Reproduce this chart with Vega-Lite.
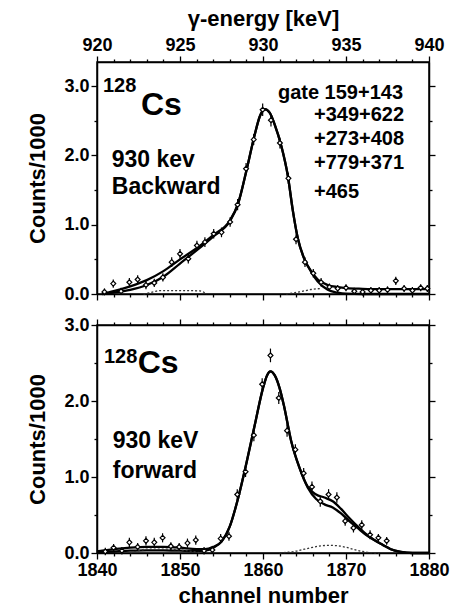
{
  "$schema": "https://vega.github.io/schema/vega-lite/v6.json",
  "padding": {"left": 26, "top": 6, "right": 4, "bottom": 2},
  "background": "white",
  "spacing": 31,
  "bounds": "flush",
  "config": {
    "font": "Liberation Sans",
    "view": {"stroke": "black", "strokeWidth": 1.5},
    "axis": {
      "domainColor": "black", "domainWidth": 1.5, "tickColor": "black", "tickWidth": 1.3,
      "labelColor": "black", "labelFont": "Liberation Sans", "labelFontSize": 18, "labelFontWeight": "bold",
      "titleFont": "Liberation Sans", "titleFontSize": 22, "titleFontWeight": "bold", "titleColor": "black",
      "grid": false, "labelOverlap": false, "labelFlush": false, "labelPadding": 2
    }
  },
  "datasets": {
    "topPts": [
      {"E": 920.45, "v": 0.03, "e": 0.05}, {"E": 920.98, "v": 0.15, "e": 0.06}, {"E": 921.45, "v": 0.04, "e": 0.05},
      {"E": 921.95, "v": 0.17, "e": 0.06}, {"E": 922.45, "v": 0.21, "e": 0.06}, {"E": 922.95, "v": 0.13, "e": 0.06},
      {"E": 923.45, "v": 0.16, "e": 0.06}, {"E": 923.97, "v": 0.24, "e": 0.06}, {"E": 924.5, "v": 0.46, "e": 0.07},
      {"E": 925.0, "v": 0.58, "e": 0.07}, {"E": 925.5, "v": 0.51, "e": 0.07}, {"E": 926.02, "v": 0.70, "e": 0.07},
      {"E": 926.5, "v": 0.75, "e": 0.07}, {"E": 927.03, "v": 0.87, "e": 0.07}, {"E": 927.5, "v": 0.89, "e": 0.07},
      {"E": 928.02, "v": 1.04, "e": 0.07}, {"E": 928.47, "v": 1.29, "e": 0.08}, {"E": 928.98, "v": 1.81, "e": 0.08},
      {"E": 929.44, "v": 2.23, "e": 0.08}, {"E": 929.98, "v": 2.66, "e": 0.09}, {"E": 930.48, "v": 2.51, "e": 0.09},
      {"E": 931.02, "v": 2.18, "e": 0.08}, {"E": 931.53, "v": 1.67, "e": 0.08}, {"E": 931.99, "v": 0.79, "e": 0.07},
      {"E": 932.53, "v": 0.46, "e": 0.07}, {"E": 933.03, "v": 0.30, "e": 0.06}, {"E": 933.5, "v": 0.17, "e": 0.06},
      {"E": 934.0, "v": 0.10, "e": 0.05}, {"E": 934.5, "v": 0.08, "e": 0.05}, {"E": 935.0, "v": 0.09, "e": 0.05},
      {"E": 935.5, "v": 0.04, "e": 0.05}, {"E": 936.0, "v": 0.03, "e": 0.05}, {"E": 936.5, "v": 0.05, "e": 0.05},
      {"E": 937.0, "v": 0.05, "e": 0.05}, {"E": 937.5, "v": 0.06, "e": 0.05}, {"E": 938.0, "v": 0.19, "e": 0.06},
      {"E": 938.5, "v": 0.08, "e": 0.05}, {"E": 939.0, "v": 0.05, "e": 0.05}, {"E": 939.5, "v": 0.09, "e": 0.05},
      {"E": 939.9, "v": 0.08, "e": 0.05}
    ],
    "topFit": [
      {"s": "a", "E": 920.3, "v": 0.0}, {"s": "a", "E": 921, "v": 0.02}, {"s": "a", "E": 922, "v": 0.06},
      {"s": "a", "E": 923, "v": 0.13}, {"s": "a", "E": 924, "v": 0.25}, {"s": "a", "E": 925, "v": 0.44},
      {"s": "a", "E": 926, "v": 0.63}, {"s": "a", "E": 927, "v": 0.83}, {"s": "a", "E": 928, "v": 1.05},
      {"s": "a", "E": 928.5, "v": 1.3}, {"s": "a", "E": 929, "v": 1.78}, {"s": "a", "E": 929.5, "v": 2.3},
      {"s": "a", "E": 929.8, "v": 2.56}, {"s": "a", "E": 930.1, "v": 2.67}, {"s": "a", "E": 930.4, "v": 2.62},
      {"s": "a", "E": 930.7, "v": 2.45}, {"s": "a", "E": 931.1, "v": 2.14}, {"s": "a", "E": 931.5, "v": 1.7},
      {"s": "a", "E": 931.8, "v": 1.2}, {"s": "a", "E": 932.1, "v": 0.8}, {"s": "a", "E": 932.5, "v": 0.5},
      {"s": "a", "E": 932.9, "v": 0.32}, {"s": "a", "E": 933.3, "v": 0.18}, {"s": "a", "E": 933.9, "v": 0.06},
      {"s": "a", "E": 934.5, "v": 0.02}, {"s": "a", "E": 935, "v": 0.005}, {"s": "a", "E": 936, "v": 0.0},
      {"s": "a", "E": 940, "v": 0.0},
      {"s": "b", "E": 920.3, "v": 0.0}, {"s": "b", "E": 921, "v": 0.04}, {"s": "b", "E": 922, "v": 0.11},
      {"s": "b", "E": 923, "v": 0.2}, {"s": "b", "E": 924, "v": 0.33}, {"s": "b", "E": 925, "v": 0.5},
      {"s": "b", "E": 926, "v": 0.66}, {"s": "b", "E": 927, "v": 0.85}, {"s": "b", "E": 928, "v": 1.06},
      {"s": "b", "E": 928.5, "v": 1.31}, {"s": "b", "E": 929, "v": 1.78}, {"s": "b", "E": 929.5, "v": 2.3},
      {"s": "b", "E": 929.8, "v": 2.56}, {"s": "b", "E": 930.1, "v": 2.67}, {"s": "b", "E": 930.4, "v": 2.62},
      {"s": "b", "E": 930.7, "v": 2.45}, {"s": "b", "E": 931.1, "v": 2.14}, {"s": "b", "E": 931.5, "v": 1.7},
      {"s": "b", "E": 931.8, "v": 1.2}, {"s": "b", "E": 932.1, "v": 0.8}, {"s": "b", "E": 932.5, "v": 0.5},
      {"s": "b", "E": 932.9, "v": 0.33}, {"s": "b", "E": 933.3, "v": 0.21}, {"s": "b", "E": 933.9, "v": 0.13},
      {"s": "b", "E": 934.5, "v": 0.1}, {"s": "b", "E": 935, "v": 0.085}, {"s": "b", "E": 936, "v": 0.075},
      {"s": "b", "E": 937, "v": 0.07}, {"s": "b", "E": 938, "v": 0.07}, {"s": "b", "E": 939, "v": 0.07},
      {"s": "b", "E": 940, "v": 0.07}
    ],
    "topDot": [
      {"s": "l", "E": 922.8, "v": 0.0}, {"s": "l", "E": 923.4, "v": 0.03}, {"s": "l", "E": 923.8, "v": 0.05},
      {"s": "l", "E": 925.0, "v": 0.05}, {"s": "l", "E": 926.2, "v": 0.045}, {"s": "l", "E": 926.6, "v": 0.0},
      {"s": "r", "E": 931.4, "v": 0.0}, {"s": "r", "E": 932.2, "v": 0.03}, {"s": "r", "E": 932.9, "v": 0.065},
      {"s": "r", "E": 933.5, "v": 0.08}
    ],
    "topTxt": [
      {"t": "128", "x": 920.36, "y": 2.92, "r": "sup"},
      {"t": "Cs", "x": 922.65, "y": 2.58, "r": "big"},
      {"t": "930 kev", "x": 920.89, "y": 1.83, "r": "lab"},
      {"t": "Backward", "x": 920.89, "y": 1.44, "r": "lab"},
      {"t": "gate 159+143", "x": 930.9, "y": 2.82, "r": "gate"},
      {"t": "+349+622", "x": 933.07, "y": 2.5, "r": "gate"},
      {"t": "+273+408", "x": 933.07, "y": 2.15, "r": "gate"},
      {"t": "+779+371", "x": 933.07, "y": 1.8, "r": "gate"},
      {"t": "+465", "x": 933.07, "y": 1.39, "r": "gate"}
    ],
    "botPts": [
      {"c": 1841.0, "v": 0.02, "e": 0.05}, {"c": 1842.0, "v": 0.07, "e": 0.05}, {"c": 1843.0, "v": 0.03, "e": 0.05},
      {"c": 1843.9, "v": 0.14, "e": 0.06}, {"c": 1844.9, "v": 0.08, "e": 0.05}, {"c": 1845.9, "v": 0.16, "e": 0.06},
      {"c": 1846.9, "v": 0.14, "e": 0.06}, {"c": 1847.9, "v": 0.2, "e": 0.06}, {"c": 1848.9, "v": 0.09, "e": 0.05},
      {"c": 1849.9, "v": 0.08, "e": 0.05}, {"c": 1850.9, "v": 0.13, "e": 0.06}, {"c": 1851.9, "v": 0.17, "e": 0.06},
      {"c": 1852.9, "v": 0.03, "e": 0.05}, {"c": 1853.9, "v": 0.04, "e": 0.05}, {"c": 1854.9, "v": 0.19, "e": 0.06},
      {"c": 1855.9, "v": 0.22, "e": 0.06}, {"c": 1856.9, "v": 0.77, "e": 0.07}, {"c": 1857.9, "v": 1.07, "e": 0.07},
      {"c": 1858.9, "v": 1.55, "e": 0.08}, {"c": 1859.9, "v": 2.22, "e": 0.08}, {"c": 1860.9, "v": 2.6, "e": 0.09},
      {"c": 1861.9, "v": 2.04, "e": 0.08}, {"c": 1862.9, "v": 1.61, "e": 0.08}, {"c": 1863.9, "v": 1.36, "e": 0.07},
      {"c": 1864.9, "v": 1.05, "e": 0.07}, {"c": 1865.9, "v": 0.87, "e": 0.07}, {"c": 1866.9, "v": 0.68, "e": 0.07},
      {"c": 1867.9, "v": 0.77, "e": 0.07}, {"c": 1868.9, "v": 0.73, "e": 0.07}, {"c": 1869.9, "v": 0.42, "e": 0.06},
      {"c": 1870.9, "v": 0.33, "e": 0.06}, {"c": 1871.9, "v": 0.37, "e": 0.06}, {"c": 1872.9, "v": 0.24, "e": 0.06},
      {"c": 1873.9, "v": 0.2, "e": 0.05}, {"c": 1874.9, "v": 0.16, "e": 0.05}
    ],
    "botFit": [
      {"s": "a", "c": 1840, "v": 0.01}, {"s": "a", "c": 1842, "v": 0.02}, {"s": "a", "c": 1844, "v": 0.03},
      {"s": "a", "c": 1846, "v": 0.035}, {"s": "a", "c": 1848, "v": 0.035}, {"s": "a", "c": 1850, "v": 0.03},
      {"s": "a", "c": 1852, "v": 0.025}, {"s": "a", "c": 1853, "v": 0.03}, {"s": "a", "c": 1854, "v": 0.07},
      {"s": "a", "c": 1855, "v": 0.15}, {"s": "a", "c": 1856, "v": 0.35}, {"s": "a", "c": 1857, "v": 0.72},
      {"s": "a", "c": 1858, "v": 1.18}, {"s": "a", "c": 1859, "v": 1.68}, {"s": "a", "c": 1860, "v": 2.17},
      {"s": "a", "c": 1860.5, "v": 2.34}, {"s": "a", "c": 1860.9, "v": 2.39}, {"s": "a", "c": 1861.4, "v": 2.34},
      {"s": "a", "c": 1862, "v": 2.17}, {"s": "a", "c": 1862.5, "v": 1.95}, {"s": "a", "c": 1863.4, "v": 1.47},
      {"s": "a", "c": 1864.4, "v": 1.12}, {"s": "a", "c": 1865.4, "v": 0.86}, {"s": "a", "c": 1866.4, "v": 0.71},
      {"s": "a", "c": 1867.4, "v": 0.64}, {"s": "a", "c": 1868.4, "v": 0.6}, {"s": "a", "c": 1869.4, "v": 0.52},
      {"s": "a", "c": 1870.4, "v": 0.42}, {"s": "a", "c": 1871.4, "v": 0.33}, {"s": "a", "c": 1872.4, "v": 0.24},
      {"s": "a", "c": 1873.4, "v": 0.17}, {"s": "a", "c": 1874.4, "v": 0.11}, {"s": "a", "c": 1875.4, "v": 0.05},
      {"s": "a", "c": 1876.6, "v": 0.015}, {"s": "a", "c": 1878, "v": 0.0}, {"s": "a", "c": 1880, "v": 0.0},
      {"s": "b", "c": 1840, "v": 0.02}, {"s": "b", "c": 1842, "v": 0.05}, {"s": "b", "c": 1844, "v": 0.07},
      {"s": "b", "c": 1846, "v": 0.08}, {"s": "b", "c": 1848, "v": 0.08}, {"s": "b", "c": 1850, "v": 0.07},
      {"s": "b", "c": 1852, "v": 0.05}, {"s": "b", "c": 1853, "v": 0.05}, {"s": "b", "c": 1854, "v": 0.08},
      {"s": "b", "c": 1855, "v": 0.15}, {"s": "b", "c": 1856, "v": 0.35}, {"s": "b", "c": 1857, "v": 0.72},
      {"s": "b", "c": 1858, "v": 1.18}, {"s": "b", "c": 1859, "v": 1.68}, {"s": "b", "c": 1860, "v": 2.17},
      {"s": "b", "c": 1860.5, "v": 2.34}, {"s": "b", "c": 1860.9, "v": 2.39}, {"s": "b", "c": 1861.4, "v": 2.34},
      {"s": "b", "c": 1862, "v": 2.17}, {"s": "b", "c": 1862.5, "v": 1.95}, {"s": "b", "c": 1863.4, "v": 1.47},
      {"s": "b", "c": 1864.4, "v": 1.12}, {"s": "b", "c": 1865.4, "v": 0.87}, {"s": "b", "c": 1866.4, "v": 0.77},
      {"s": "b", "c": 1867.4, "v": 0.73}, {"s": "b", "c": 1868.4, "v": 0.68}, {"s": "b", "c": 1869.4, "v": 0.58},
      {"s": "b", "c": 1870.4, "v": 0.46}, {"s": "b", "c": 1871.4, "v": 0.35}, {"s": "b", "c": 1872.4, "v": 0.25},
      {"s": "b", "c": 1873.4, "v": 0.17}, {"s": "b", "c": 1874.4, "v": 0.11}, {"s": "b", "c": 1875.4, "v": 0.05},
      {"s": "b", "c": 1876.6, "v": 0.015}, {"s": "b", "c": 1878, "v": 0.0}, {"s": "b", "c": 1880, "v": 0.0}
    ],
    "botDot": [
      {"s": "l", "c": 1844, "v": 0.0}, {"s": "l", "c": 1845, "v": 0.03}, {"s": "l", "c": 1846, "v": 0.05},
      {"s": "l", "c": 1848, "v": 0.05}, {"s": "l", "c": 1850, "v": 0.04}, {"s": "l", "c": 1851.5, "v": 0.02},
      {"s": "l", "c": 1852.5, "v": 0.0},
      {"s": "r", "c": 1862, "v": 0.0}, {"s": "r", "c": 1863, "v": 0.01}, {"s": "r", "c": 1864, "v": 0.025},
      {"s": "r", "c": 1865, "v": 0.05}, {"s": "r", "c": 1866, "v": 0.075}, {"s": "r", "c": 1867, "v": 0.095},
      {"s": "r", "c": 1868, "v": 0.1}, {"s": "r", "c": 1869, "v": 0.095}, {"s": "r", "c": 1870, "v": 0.075},
      {"s": "r", "c": 1871, "v": 0.045}, {"s": "r", "c": 1872, "v": 0.02}, {"s": "r", "c": 1873, "v": 0.005},
      {"s": "r", "c": 1874, "v": 0.0}
    ],
    "botTxt": [
      {"t": "128", "x": 1840.84, "y": 2.5, "r": "sup"},
      {"t": "Cs", "x": 1844.9, "y": 2.37, "r": "big"},
      {"t": "930 keV", "x": 1841.9, "y": 1.38, "r": "lab"},
      {"t": "forward", "x": 1841.9, "y": 0.99, "r": "lab"}
    ]
  },
  "vconcat": [
    {
      "width": 332, "height": 232,
      "resolve": {"axis": {"x": "independent", "y": "independent"}},
      "layer": [
        {
          "data": {"name": "topFit"},
          "mark": {"type": "line", "color": "black", "strokeWidth": 2.3, "interpolate": "monotone"},
          "encoding": {
            "x": {"field": "E", "type": "quantitative", "scale": {"domain": [920, 940], "nice": false, "zero": false},
              "axis": {"orient": "top", "title": "γ-energy [keV]", "titlePadding": 6, "format": "d",
                "values": [920,921,922,923,924,925,926,927,928,929,930,931,932,933,934,935,936,937,938,939,940],
                "labelExpr": "datum.value % 5 === 0 ? datum.label : ''",
                "tickSize": {"condition": {"test": "datum.value % 5 === 0", "value": 6}, "value": 3}}},
            "y": {"field": "v", "type": "quantitative", "scale": {"domain": [0, 3.35], "nice": false, "zero": false},
              "axis": {"orient": "left", "title": "Counts/1000", "titlePadding": 14,
                "values": [0, 0.5, 1, 1.5, 2, 2.5, 3],
                "labelExpr": "datum.value % 1 === 0 ? format(datum.value, '.1f') : ''",
                "tickSize": {"condition": {"test": "datum.value % 1 === 0", "value": 6}, "value": 3}}},
            "detail": {"field": "s"}
          }
        },
        {
          "data": {"name": "topDot"},
          "mark": {"type": "line", "color": "#333", "strokeWidth": 1.3, "strokeDash": [2, 2], "interpolate": "monotone"},
          "encoding": {
            "x": {"field": "E", "type": "quantitative", "scale": {"domain": [920, 940], "nice": false, "zero": false},
              "axis": {"orient": "bottom", "title": null, "labels": false,
                "values": [920,921,922,923,924,925,926,927,928,929,930,931,932,933,934,935,936,937,938,939,940],
                "tickSize": {"condition": {"test": "datum.value % 5 === 0", "value": 6}, "value": 3}}},
            "y": {"field": "v", "type": "quantitative", "scale": {"domain": [0, 3.35], "nice": false, "zero": false},
              "axis": {"orient": "right", "title": null, "labels": false,
                "values": [0, 0.5, 1, 1.5, 2, 2.5, 3],
                "tickSize": {"condition": {"test": "datum.value % 1 === 0", "value": 6}, "value": 3}}},
            "detail": {"field": "s"}
          }
        },
        {
          "data": {"name": "topPts"},
          "mark": {"type": "errorbar", "color": "black", "thickness": 1.2},
          "encoding": {
            "x": {"field": "E", "type": "quantitative", "axis": null},
            "y": {"field": "v", "type": "quantitative", "axis": null},
            "yError": {"field": "e"}
          }
        },
        {
          "data": {"name": "topPts"},
          "mark": {"type": "point", "shape": "diamond", "filled": true, "fill": "white", "stroke": "black", "strokeWidth": 1.2, "size": 24, "opacity": 1},
          "encoding": {
            "x": {"field": "E", "type": "quantitative", "axis": null},
            "y": {"field": "v", "type": "quantitative", "axis": null}
          }
        },
        {
          "data": {"name": "topTxt"},
          "transform": [{"filter": "datum.r === 'sup'"}],
          "mark": {"type": "text", "align": "left", "baseline": "alphabetic", "fontSize": 20, "fontWeight": "bold", "color": "black"},
          "encoding": {
            "x": {"field": "x", "type": "quantitative", "axis": null},
            "y": {"field": "y", "type": "quantitative", "axis": null},
            "text": {"field": "t"}
          }
        },
        {
          "data": {"name": "topTxt"},
          "transform": [{"filter": "datum.r === 'big'"}],
          "mark": {"type": "text", "align": "left", "baseline": "alphabetic", "fontSize": 32, "fontWeight": "bold", "color": "black"},
          "encoding": {
            "x": {"field": "x", "type": "quantitative", "axis": null},
            "y": {"field": "y", "type": "quantitative", "axis": null},
            "text": {"field": "t"}
          }
        },
        {
          "data": {"name": "topTxt"},
          "transform": [{"filter": "datum.r === 'lab'"}],
          "mark": {"type": "text", "align": "left", "baseline": "alphabetic", "fontSize": 23, "fontWeight": "bold", "color": "black"},
          "encoding": {
            "x": {"field": "x", "type": "quantitative", "axis": null},
            "y": {"field": "y", "type": "quantitative", "axis": null},
            "text": {"field": "t"}
          }
        },
        {
          "data": {"name": "topTxt"},
          "transform": [{"filter": "datum.r === 'gate'"}],
          "mark": {"type": "text", "align": "left", "baseline": "alphabetic", "fontSize": 20, "fontWeight": "bold", "color": "black"},
          "encoding": {
            "x": {"field": "x", "type": "quantitative", "axis": null},
            "y": {"field": "y", "type": "quantitative", "axis": null},
            "text": {"field": "t"}
          }
        }
      ]
    },
    {
      "width": 332, "height": 228,
      "resolve": {"axis": {"x": "independent", "y": "independent"}},
      "layer": [
        {
          "data": {"name": "botFit"},
          "mark": {"type": "line", "color": "black", "strokeWidth": 2.3, "interpolate": "monotone"},
          "encoding": {
            "x": {"field": "c", "type": "quantitative", "scale": {"domain": [1840, 1880], "nice": false, "zero": false},
              "axis": {"orient": "bottom", "title": "channel number", "titlePadding": 6, "format": "d",
                "values": [1840,1842,1844,1846,1848,1850,1852,1854,1856,1858,1860,1862,1864,1866,1868,1870,1872,1874,1876,1878,1880],
                "labelExpr": "datum.value % 10 === 0 ? datum.label : ''",
                "tickSize": {"condition": {"test": "datum.value % 10 === 0", "value": 6}, "value": 3}}},
            "y": {"field": "v", "type": "quantitative", "scale": {"domain": [0, 3.0], "nice": false, "zero": false},
              "axis": {"orient": "left", "title": "Counts/1000", "titlePadding": 14,
                "values": [0, 0.5, 1, 1.5, 2, 2.5, 3],
                "labelExpr": "datum.value % 1 === 0 ? format(datum.value, '.1f') : ''",
                "tickSize": {"condition": {"test": "datum.value % 1 === 0", "value": 6}, "value": 3}}},
            "detail": {"field": "s"}
          }
        },
        {
          "data": {"name": "botDot"},
          "mark": {"type": "line", "color": "#333", "strokeWidth": 1.3, "strokeDash": [2, 2], "interpolate": "monotone"},
          "encoding": {
            "x": {"field": "c", "type": "quantitative", "scale": {"domain": [1840, 1880], "nice": false, "zero": false},
              "axis": {"orient": "top", "title": null, "labels": false,
                "values": [1840,1842,1844,1846,1848,1850,1852,1854,1856,1858,1860,1862,1864,1866,1868,1870,1872,1874,1876,1878,1880],
                "tickSize": {"condition": {"test": "datum.value % 10 === 0", "value": 6}, "value": 3}}},
            "y": {"field": "v", "type": "quantitative", "scale": {"domain": [0, 3.0], "nice": false, "zero": false},
              "axis": {"orient": "right", "title": null, "labels": false,
                "values": [0, 0.5, 1, 1.5, 2, 2.5, 3],
                "tickSize": {"condition": {"test": "datum.value % 1 === 0", "value": 6}, "value": 3}}},
            "detail": {"field": "s"}
          }
        },
        {
          "data": {"name": "botPts"},
          "mark": {"type": "errorbar", "color": "black", "thickness": 1.2},
          "encoding": {
            "x": {"field": "c", "type": "quantitative", "axis": null},
            "y": {"field": "v", "type": "quantitative", "axis": null},
            "yError": {"field": "e"}
          }
        },
        {
          "data": {"name": "botPts"},
          "mark": {"type": "point", "shape": "diamond", "filled": true, "fill": "white", "stroke": "black", "strokeWidth": 1.2, "size": 24, "opacity": 1},
          "encoding": {
            "x": {"field": "c", "type": "quantitative", "axis": null},
            "y": {"field": "v", "type": "quantitative", "axis": null}
          }
        },
        {
          "data": {"name": "botTxt"},
          "transform": [{"filter": "datum.r === 'sup'"}],
          "mark": {"type": "text", "align": "left", "baseline": "alphabetic", "fontSize": 20, "fontWeight": "bold", "color": "black"},
          "encoding": {
            "x": {"field": "x", "type": "quantitative", "axis": null},
            "y": {"field": "y", "type": "quantitative", "axis": null},
            "text": {"field": "t"}
          }
        },
        {
          "data": {"name": "botTxt"},
          "transform": [{"filter": "datum.r === 'big'"}],
          "mark": {"type": "text", "align": "left", "baseline": "alphabetic", "fontSize": 32, "fontWeight": "bold", "color": "black"},
          "encoding": {
            "x": {"field": "x", "type": "quantitative", "axis": null},
            "y": {"field": "y", "type": "quantitative", "axis": null},
            "text": {"field": "t"}
          }
        },
        {
          "data": {"name": "botTxt"},
          "transform": [{"filter": "datum.r === 'lab'"}],
          "mark": {"type": "text", "align": "left", "baseline": "alphabetic", "fontSize": 23, "fontWeight": "bold", "color": "black"},
          "encoding": {
            "x": {"field": "x", "type": "quantitative", "axis": null},
            "y": {"field": "y", "type": "quantitative", "axis": null},
            "text": {"field": "t"}
          }
        }
      ]
    }
  ]
}
